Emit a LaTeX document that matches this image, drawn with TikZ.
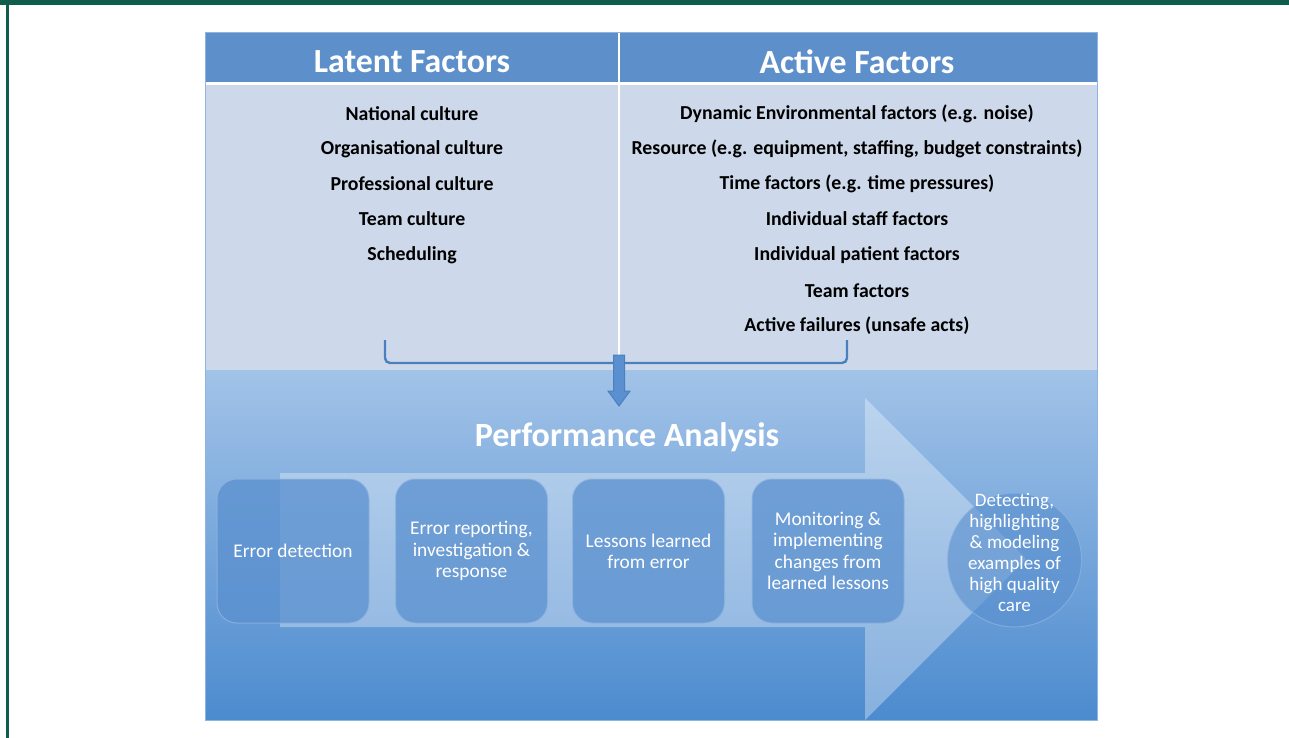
\documentclass[tikz,border=0pt]{standalone}
\usepackage{fontspec}
\setmainfont{Carlito}
\usetikzlibrary{shapes.geometric}
\definecolor{frame}{HTML}{0F5E4B}
\definecolor{headblue}{HTML}{5D90CA}
\definecolor{panel}{HTML}{CDD9EA}
\definecolor{lowtop}{HTML}{A2C3E8}
\definecolor{lowbot}{HTML}{4C8BCF}
\definecolor{linkblue}{HTML}{4A7FC0}
\definecolor{boxblue}{HTML}{5A90CF}
\definecolor{edgeblue}{HTML}{8FB4E0}
\tikzset{
  hdr/.style={text=white, font=\fontsize{33.8}{38}\selectfont\bfseries, inner sep=0pt},
  item/.style={text=black, font=\fontsize{19.8}{23}\selectfont\bfseries, inner sep=0pt},
  title/.style={text=white, font=\fontsize{34}{39}\selectfont\bfseries, inner sep=0pt},
  stepbox/.style={rounded corners=20pt, minimum width=152pt, minimum height=144pt,
    fill=boxblue, fill opacity=0.75, draw=edgeblue, draw opacity=0.8, line width=1pt,
    text=white, text opacity=1, align=center, inner sep=2pt,
    font=\fontsize{19.4}{21.3}\selectfont},
  endcircle/.style={circle, minimum size=134pt, fill=boxblue, fill opacity=0.62,
    draw=edgeblue, draw opacity=0.7, line width=1pt, inner sep=0pt},
  circletext/.style={text=white, text opacity=1, align=center, inner sep=0pt,
    font=\fontsize{19}{21}\selectfont},
  bracket/.style={draw=linkblue, line width=2.4pt, rounded corners=5pt},
  bigarrow/.style={fill=white, fill opacity=0.33},
  smallarrow/.style={fill=boxblue, draw=linkblue, line width=1pt}
}
\begin{document}
\begin{tikzpicture}[x=1pt,y=-1pt]
\useasboundingbox (0,0) rectangle (1289,738);
\fill[white] (0,0) rectangle (1289,738);
% page frame
\fill[frame] (0,0) rectangle (1289,5);
\fill[frame] (6,0) rectangle (8.5,738);
% panels
\fill[panel] (205,82) rectangle (1097,370);
\fill[headblue] (205,32) rectangle (1097,82);
\fill[white] (205,82) rectangle (1097,85);
\shade[top color=lowtop, bottom color=lowbot] (205,370) rectangle (1097,720);
\draw[white, line width=1.3pt] (619,32) -- (619,356);
\draw[edgeblue, line width=0.8pt] (205,32) rectangle (1097,720);
% headers
\node[hdr] (lat) at (412,62) {Latent Factors};
\node[hdr] (act) at (857,62) {Active Factors};
% latent items
\node[item] (l1) at (412,114) {National culture};
\node[item] (l2) at (412,149) {Organisational culture};
\node[item] (l3) at (412,184) {Professional culture};
\node[item] (l4) at (412,219) {Team culture};
\node[item] (l5) at (412,255) {Scheduling};
% active items
\node[item] (a1) at (857,114) {Dynamic Environmental factors (e.g. noise)};
\node[item] (a2) at (857,149) {Resource (e.g. equipment, staffing, budget constraints)};
\node[item] (a3) at (857,184) {Time factors (e.g. time pressures)};
\node[item] (a4) at (857,219) {Individual staff factors};
\node[item] (a5) at (857,255) {Individual patient factors};
\node[item] (a6) at (857,291) {Team factors};
\node[item] (a7) at (857,326) {Active failures (unsafe acts)};
% bracket
\coordinate (bl) at (385,340);
\coordinate (br) at (847,340);
\coordinate (bm) at (619,356);
\draw[bracket] (bl) -- (385,363) -- (847,363) -- (br);
% performance analysis title
\node[title] (pa) at (627,437) {Performance Analysis};
% small down arrow
\fill[smallarrow] (613.5,355) -- (624.5,355) -- (624.5,391) -- (630,391) -- (619,406) -- (608,391) -- (613.5,391) -- cycle;
% big arrow
\fill[bigarrow] (280,473) -- (865,473) -- (865,398) -- (1026,559) -- (865,720) -- (865,627) -- (280,627) -- cycle;
% steps
\node[stepbox] (s1) at (293,551) {Error detection};
\node[stepbox] (s2) at (471.5,551) {Error reporting,\\investigation \&\\response};
\node[stepbox] (s3) at (648.5,551) {Lessons learned\\from error};
\node[stepbox] (s4) at (828,551) {Monitoring \&\\implementing\\changes from\\learned lessons};
\node[endcircle] (s5) at (1014.5,560) {};
\node[circletext] (s5t) at ([yshift=8pt]s5.center) {Detecting,\\highlighting\\\& modeling\\examples of\\high quality\\care};
\end{tikzpicture}
\end{document}
